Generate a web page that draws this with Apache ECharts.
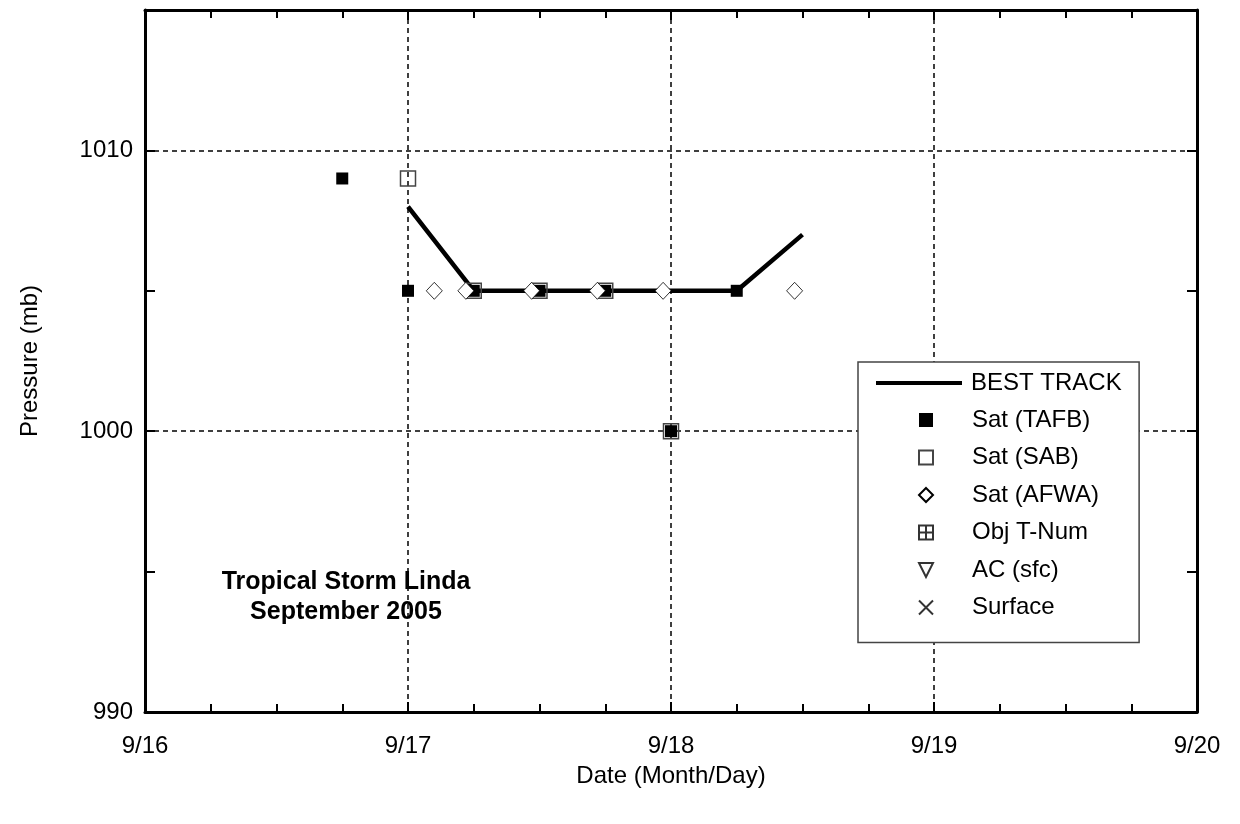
<!DOCTYPE html>
<html>
<head>
<meta charset="utf-8">
<script src="https://cdn.jsdelivr.net/npm/echarts@6/dist/echarts.min.js"></script>
<style>
  html, body { margin: 0; padding: 0; background: #fff; }
  #chart { width: 1240px; height: 824px; }
</style>
</head>
<body>
<div id="chart"></div>
<script>
// days of September (fractional), pressure in mb
var bestTrackX = [17.0, 17.25, 17.5, 17.75, 18.0, 18.25, 18.5];
var bestTrackY = [1008, 1005, 1005, 1005, 1005, 1005, 1007];

var tafbX = [16.75, 17.0, 17.25, 17.5, 17.75, 18.0, 18.25];
var tafbY = [1009, 1005, 1005, 1005, 1005, 1000, 1005];

var sabX = [17.0, 17.25, 17.5, 17.75, 18.0];
var sabY = [1009, 1005, 1005, 1005, 1000];

var afwaX = [17.1, 17.22, 17.47, 17.72, 17.97, 18.47];
var afwaY = [1005, 1005, 1005, 1005, 1005, 1005];

var xTicks = [16, 17, 18, 19, 20];
var yTicks = [990, 1000, 1010];

function pairs(xs, ys) {
    var out = [];
    for (var i = 0; i < xs.length; i++) out.push([xs[i], ys[i]]);
    return out;
}

var font = 'Arial, "Liberation Sans", sans-serif';
var black = '#000';
var fs = 24;

var chart = echarts.init(document.getElementById('chart'));

var mirrorAxis = {
    axisLine: { show: true, lineStyle: { color: black, width: 3 } },
    axisTick: { show: true, inside: true, length: 10, lineStyle: { color: black, width: 2 } },
    minorTick: { show: true, splitNumber: 4, length: 8, lineStyle: { color: black, width: 2 } },
    axisLabel: { show: false },
    splitLine: { show: false }
};

chart.setOption({
    animation: false,
    backgroundColor: '#fff',
    title: {
        text: 'Tropical Storm Linda\nSeptember 2005',
        left: 341,
        top: 562,
        textAlign: 'center',
        textStyle: { fontFamily: font, fontSize: 25, fontWeight: 'bold', color: black, lineHeight: 30, align: 'center' }
    },
    grid: { left: 145, right: 43, top: 10, bottom: 112 },
    legend: [
        {
            data: ['Sat (TAFB)', 'Sat (SAB)', 'Sat (AFWA)', 'Obj T-Num', 'AC (sfc)', 'Surface'],
            orient: 'vertical',
            left: 858,
            top: 362,
            padding: [46, 40, 23, 60],
            itemWidth: 14,
            itemHeight: 14,
            itemGap: 13.5,
            backgroundColor: '#fff',
            borderColor: '#444',
            borderWidth: 1.5,
            borderRadius: 0,
            textStyle: { fontFamily: font, fontSize: fs, lineHeight: 24, color: black, padding: [0, 0, 0, 34] }
        },
        {
            data: [{ name: 'BEST TRACK', icon: 'rect' }],
            left: 876,
            top: 371,
            padding: 0,
            itemWidth: 86,
            itemHeight: 4,
            textStyle: { fontFamily: font, fontSize: fs, lineHeight: 24, color: black, padding: [0, 0, 0, 4] }
        }
    ],
    xAxis: [
        {
            type: 'value',
            min: xTicks[0],
            max: xTicks[xTicks.length - 1],
            interval: 1,
            name: 'Date (Month/Day)',
            nameLocation: 'middle',
            nameGap: 52,
            nameTextStyle: { fontFamily: font, fontSize: fs, color: black },
            axisLine: { show: true, lineStyle: { color: black, width: 3 } },
            axisTick: { show: true, inside: true, length: 10, lineStyle: { color: black, width: 2 } },
            minorTick: { show: true, splitNumber: 4, length: 8, lineStyle: { color: black, width: 2 } },
            axisLabel: {
                margin: 22,
                fontFamily: font, fontSize: fs, color: black,
                formatter: function (v) { return '9/' + v; }
            },
            splitLine: { show: true, lineStyle: { color: black, width: 1.5, type: [5, 4] } }
        },
        Object.assign({ type: 'value', position: 'top', min: xTicks[0], max: xTicks[xTicks.length - 1], interval: 1 }, mirrorAxis)
    ],
    yAxis: [
        {
            type: 'value',
            min: yTicks[0],
            max: 1015,
            interval: 10,
            name: 'Pressure (mb)',
            nameLocation: 'middle',
            nameGap: 103,
            nameTextStyle: { fontFamily: font, fontSize: fs, color: black },
            axisLine: { show: true, lineStyle: { color: black, width: 3 } },
            axisTick: { show: true, inside: true, length: 10, lineStyle: { color: black, width: 2 } },
            minorTick: { show: true, splitNumber: 2, length: 10, lineStyle: { color: black, width: 2 } },
            axisLabel: {
                margin: 12, fontFamily: font, fontSize: fs, color: black,
                formatter: function (v) { return yTicks.indexOf(v) >= 0 ? String(v) : ''; }
            },
            splitLine: { show: true, lineStyle: { color: black, width: 1.5, type: [5, 4] } }
        },
        Object.assign({ type: 'value', position: 'right', min: yTicks[0], max: 1015, interval: 10 },
            mirrorAxis, { minorTick: { show: true, splitNumber: 2, length: 10, lineStyle: { color: black, width: 2 } } })
    ],
    series: [
        {
            name: 'BEST TRACK',
            type: 'line',
            data: pairs(bestTrackX, bestTrackY),
            symbol: 'none',
            lineStyle: { color: black, width: 4.5 },
            itemStyle: { color: black },
            z: 2
        },
        {
            name: 'Sat (SAB)',
            type: 'scatter',
            data: pairs(sabX, sabY),
            symbol: 'rect',
            symbolSize: 15,
            itemStyle: { color: 'rgba(0,0,0,0)', borderColor: '#444', borderWidth: 1.5, opacity: 1 },
            z: 3
        },
        {
            name: 'Sat (TAFB)',
            type: 'scatter',
            data: pairs(tafbX, tafbY),
            symbol: 'rect',
            symbolSize: 12,
            itemStyle: { color: black, opacity: 1 },
            z: 4
        },
        {
            name: 'Sat (AFWA)',
            type: 'scatter',
            data: pairs(afwaX, afwaY),
            symbol: 'diamond',
            symbolSize: [16, 17],
            itemStyle: { color: '#fff', borderColor: black, borderWidth: 0.8, opacity: 1 },
            z: 5
        },
        {
            name: 'Obj T-Num',
            type: 'scatter',
            data: [],
            symbol: 'path://M0,0H10V10H0Z M5,0V10 M0,5H10',
            symbolSize: 13,
            itemStyle: { color: 'rgba(0,0,0,0)', borderColor: black, borderWidth: 1 }
        },
        {
            name: 'AC (sfc)',
            type: 'scatter',
            data: [],
            symbol: 'path://M0,0L10,0L5,10Z',
            symbolSize: 13,
            itemStyle: { color: 'rgba(0,0,0,0)', borderColor: black, borderWidth: 1 }
        },
        {
            name: 'Surface',
            type: 'scatter',
            data: [],
            symbol: 'path://M0,0L10,10M10,0L0,10',
            symbolSize: 14,
            itemStyle: { color: 'rgba(0,0,0,0)', borderColor: black, borderWidth: 1 }
        }
    ]
});
</script>
</body>
</html>
